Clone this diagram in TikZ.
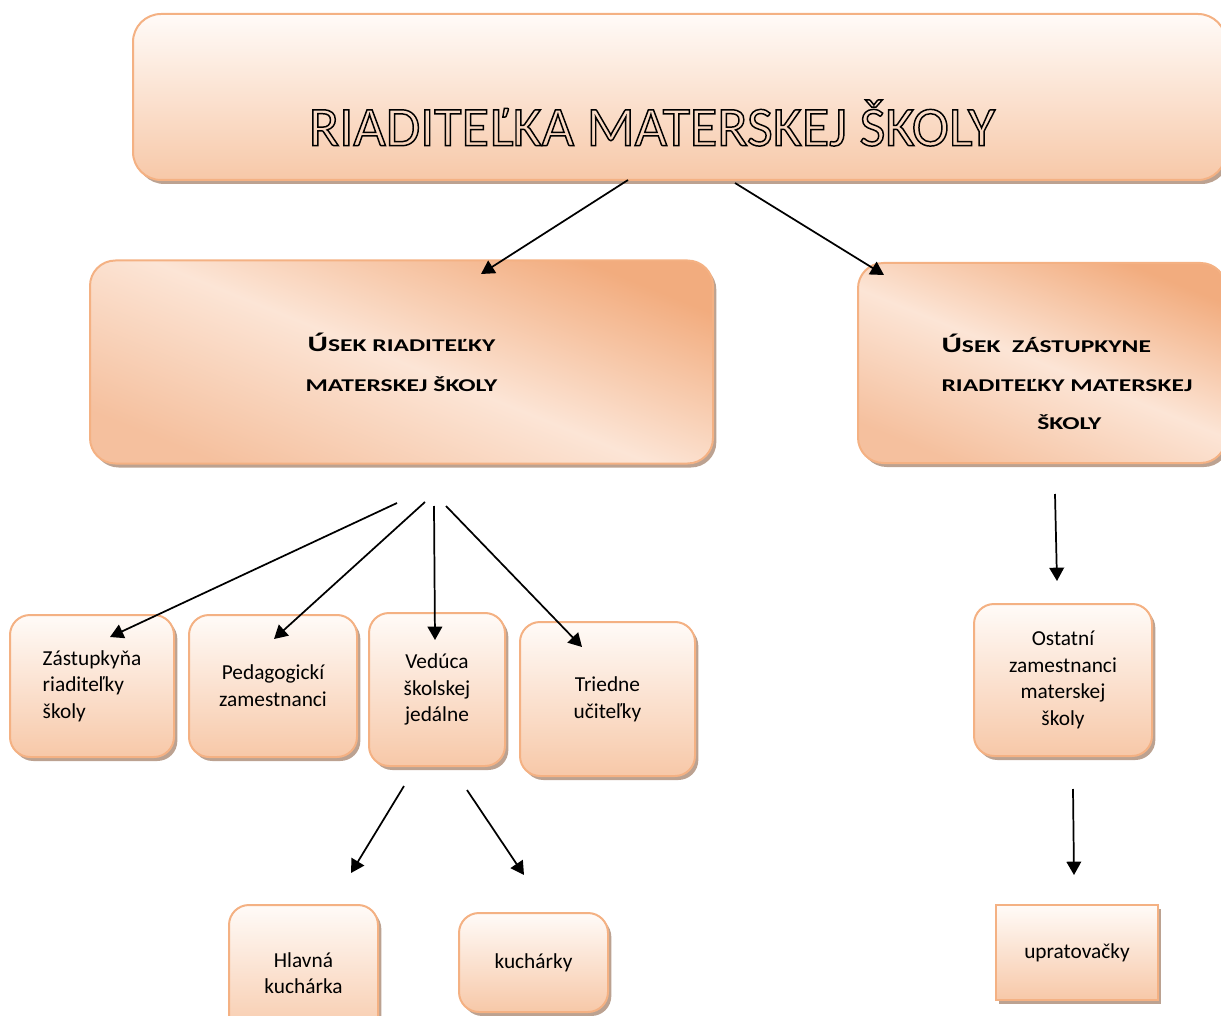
\documentclass[tikz,border=0pt]{standalone}
\usepackage{fontspec}
\setmainfont{Carlito}
\newfontfamily\siroke[FakeStretch=1.42]{Carlito}
\usetikzlibrary{arrows.meta,shadows}

\definecolor{okraj}{RGB}{244,177,131}
\definecolor{broskyna}{RGB}{247,200,168}
\definecolor{svetla}{RGB}{255,251,248}
\definecolor{stred}{RGB}{252,229,214}
\definecolor{tmava}{RGB}{242,172,126}
\definecolor{polotmava}{RGB}{245,192,158}
\definecolor{tien}{RGB}{176,146,126}

\newcommand{\obrys}[1]{\special{pdf:literal direct 1 Tr 1.1 w 0 0 0 RG}#1\special{pdf:literal direct 0 Tr}}
\newcommand{\velkeU}{{\fontsize{16.5}{30}\selectfont Ú}}

\tikzset{every picture/.style={line width=0.75pt}}
\tikzset{
  skatula/.style={draw=okraj, line width=1.5pt, rounded corners=15pt, top color=svetla, bottom color=broskyna,
    drop shadow={shadow xshift=2.5pt, shadow yshift=-3pt, fill=tien, opacity=.85},
    font=\fontsize{16}{20}\selectfont, align=center, inner sep=2pt},
  velka/.style={skatula, rounded corners=19pt, left color=polotmava, right color=tmava, middle color=stred,
    shading angle=158, font=\siroke\bfseries\fontsize{13.5}{30}\selectfont},
  nadpis/.style={font=\fontsize{42}{46}\selectfont, inner sep=0pt},
  sipka/.style={line width=1.3pt, -{Triangle[length=10pt,width=11pt]}},
}

\begin{document}
\begin{tikzpicture}[x=0.75pt,y=0.75pt,yscale=-1]
\useasboundingbox (0,0) rectangle (1221,1016);

% Boxes
\node[skatula, rounded corners=21pt, minimum width=819.75pt, minimum height=124.5pt] (riaditelka) at (679.5,97) {};
\node[velka, minimum width=467.25pt, minimum height=152.25pt] (usekR) at (401.5,362)
  {\velkeU SEK RIADITEĽKY\\MATERSKEJ ŠKOLY};
\node[velka, minimum width=276pt, minimum height=150pt] (usekZ) at (1042,363) {};

\node[skatula, align=left, minimum width=123pt, minimum height=106.5pt] (zastupkyna) at (92,686)
  {Zástupkyňa\\riaditeľky\\školy};
\node[skatula, minimum width=126pt, minimum height=106.5pt] (pedagog) at (273,686)
  {Pedagogickí\\zamestnanci};
\node[skatula, minimum width=102pt, minimum height=114.75pt] (veduca) at (437,689.5)
  {Vedúca\\školskej\\jedálne};
\node[skatula, minimum width=131.25pt, minimum height=115.5pt] (triedne) at (607.5,699)
  {Triedne\\učiteľky};
\node[skatula, minimum width=133.5pt, minimum height=114pt] (ostatni) at (1063,680)
  {Ostatní\\zamestnanci\\materskej\\školy};
\node[skatula, minimum width=111.75pt, minimum height=102pt] (hlavna) at (303.5,973)
  {Hlavná\\kuchárka};
\node[skatula, minimum width=111.75pt, minimum height=74.25pt] (kucharky) at (533.5,962.5)
  {kuchárky};
\node[skatula, rounded corners=0pt, minimum width=121.5pt, minimum height=71.25pt] (upratovacky) at (1077,952.5)
  {upratovačky};

% Text Node
\node[nadpis] (nazov) at (652,123) {\obrys{RIADITEĽKA MATERSKEJ ŠKOLY}};
% Text Node
\node[font=\siroke\bfseries\fontsize{13.5}{29}\selectfont, align=left, inner sep=0pt] (usekZtext) at (1067,382)
  {\velkeU SEK\ \ ZÁSTUPKYNE\\RIADITEĽKY MATERSKEJ\\\hphantom{RIADITEĽ}ŠKOLY};

% Arrow ends
\coordinate (a1) at (628,180);  \coordinate (b1) at (481,274);
\coordinate (a2) at (735,183);  \coordinate (b2) at (884,275);
\coordinate (c1) at (397,503);  \coordinate (d1) at (110,637);
\coordinate (c2) at (425,502);  \coordinate (d2) at (274,639);
\coordinate (c3) at (434,506);  \coordinate (d3) at (435,640);
\coordinate (c4) at (446,506);  \coordinate (d4) at (582,647);
\coordinate (e1) at (1055,494); \coordinate (f1) at (1057,581);
\coordinate (g1) at (404,786);  \coordinate (h1) at (351,873);
\coordinate (g2) at (467,790);  \coordinate (h2) at (524,875);
\coordinate (e2) at (1073,789); \coordinate (f2) at (1074,875);

%Straight Lines
\draw[sipka] (a1) -- (b1);
\draw[sipka] (a2) -- (b2);
\draw[sipka] (c1) -- (d1);
\draw[sipka] (c2) -- (d2);
\draw[sipka] (c3) -- (d3);
\draw[sipka] (c4) -- (d4);
\draw[sipka] (e1) -- (f1);
\draw[sipka] (g1) -- (h1);
\draw[sipka] (g2) -- (h2);
\draw[sipka] (e2) -- (f2);

\end{tikzpicture}
\end{document}
